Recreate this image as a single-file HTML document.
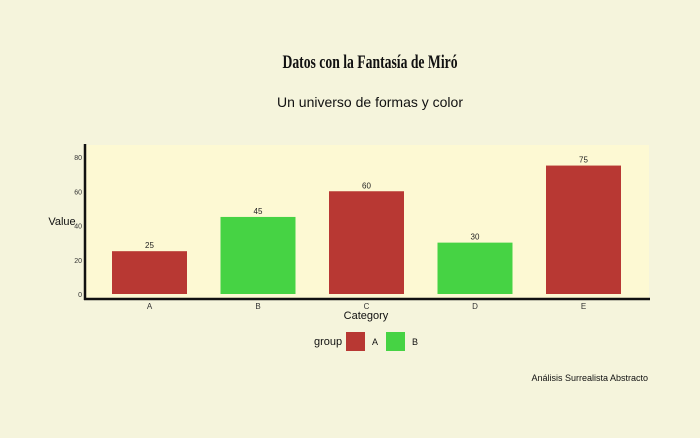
<!DOCTYPE html>
<html><head><meta charset="utf-8"><style>
body{margin:0;background:#f5f4dc;}
svg{display:block;font-family:"Liberation Sans",sans-serif;}
</style></head><body>
<svg width="700" height="438">
<rect width="700" height="438" fill="#f5f4dc"/>
<text x="370" y="68" text-anchor="middle" font-size="19" font-family="Liberation Serif, serif" font-weight="bold" fill="#111" transform="translate(370,0) scale(0.72,1) translate(-370,0)">Datos con la Fantasía de Miró</text>
<text x="370" y="107" text-anchor="middle" font-size="14" fill="#111">Un universo de formas y color</text>
<rect x="85" y="145" width="564" height="154" fill="#fdf9d3"/>
<g id="yticks"></g>
<g id="bars"></g>
<line x1="85" y1="144" x2="85" y2="300" stroke="#111" stroke-width="2.5"/>
<line x1="84" y1="299" x2="650" y2="299" stroke="#111" stroke-width="2.5"/>
<text x="62" y="225" text-anchor="middle" font-size="11" fill="#111">Value</text>
<text x="366" y="319" text-anchor="middle" font-size="11" fill="#111">Category</text>
<g>
<text x="314" y="345" font-size="11" fill="#111">group</text>
<rect x="346" y="332" width="19" height="19" fill="#b83833"/>
<text x="372" y="345" font-size="9" fill="#111">A</text>
<rect x="386" y="332" width="19" height="19" fill="#46d344"/>
<text x="412" y="345" font-size="9" fill="#111">B</text>
</g>
<text x="648" y="381" text-anchor="end" font-size="9" fill="#111">Análisis Surrealista Abstracto</text>
</svg>
<script>
const categories=["A","B","C","D","E"];
const values=[25,45,60,30,75];
const groups=["A","B","A","B","A"];
const yTicks=[0,20,40,60,80];
const colors={A:"#b83833",B:"#46d344"};
const NS="http://www.w3.org/2000/svg";
function y(v){return 294-v*1.7125;}
function x(i){return 149.5+i*108.5;}
const bw=75;
const bg=document.getElementById("bars"), yg=document.getElementById("yticks");
yTicks.forEach(t=>{
 const tx=document.createElementNS(NS,"text");
 
 
 tx.setAttribute("x",82);tx.setAttribute("y",y(t)+3);tx.setAttribute("text-anchor","end");
 tx.setAttribute("font-size","7");tx.setAttribute("fill","#333");tx.textContent=t;yg.appendChild(tx);
});
categories.forEach((c,i)=>{
 const r=document.createElementNS(NS,"rect");
 
 
 r.setAttribute("x",x(i)-bw/2);r.setAttribute("y",y(values[i]));
 r.setAttribute("width",bw);r.setAttribute("height",y(0)-y(values[i]));
 r.setAttribute("fill",colors[groups[i]]);bg.appendChild(r);
 const l=document.createElementNS(NS,"text");
 
 
 l.setAttribute("x",x(i));l.setAttribute("y",y(values[i])-3);l.setAttribute("text-anchor","middle");
 l.setAttribute("font-size","8");l.setAttribute("fill","#222");l.textContent=values[i];bg.appendChild(l);
 const xl=document.createElementNS(NS,"text");
 
 
 xl.setAttribute("x",x(i));xl.setAttribute("y",309);xl.setAttribute("text-anchor","middle");
 xl.setAttribute("font-size","8");xl.setAttribute("fill","#333");xl.textContent=c;bg.appendChild(xl);
});
</script>
</body></html>
